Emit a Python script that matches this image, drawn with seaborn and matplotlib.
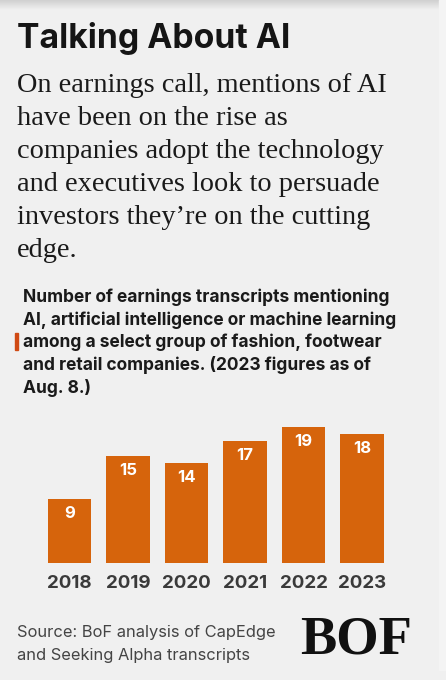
import numpy as np
import pandas as pd
import matplotlib
matplotlib.use("Agg")
import matplotlib.pyplot as plt
import seaborn as sns

# data
years = ["2018", "2019", "2020", "2021", "2022", "2023"]
mentions = [9, 15, 14, 17, 19, 18]

title = "Talking About AI"
deck_lines = [
    "On earnings call, mentions of AI",
    "have been on the rise as",
    "companies adopt the technology",
    "and executives look to persuade",
    "investors they\u2019re on the cutting",
    "edge.",
]
chart_lines = [
    "Number of earnings transcripts mentioning",
    "AI, artificial intelligence or machine learning",
    "among a select group of fashion, footwear",
    "and retail companies. (2023 figures as of",
    "Aug. 8.)",
]
source_lines = ["Source: BoF analysis of CapEdge", "and Seeking Alpha transcripts"]

sns.set_theme(style="white")
plt.rcParams["font.family"] = ["Inter", "DejaVu Sans"]

BG = "#f0f0f0"
ORANGE = "#d6640c"
W, H = 446, 680

fig = plt.figure(figsize=(W / 100, H / 100), dpi=100)
fig.patch.set_facecolor(BG)


def px(x, y):
    # pixel coords from top-left -> figure fraction
    return x / W, 1 - y / H


def fit_text(x, y, s, target_w, size, **kw):
    t = fig.text(*px(x, y), s, fontsize=size, **kw)
    r = fig.canvas.get_renderer()
    w = t.get_window_extent(renderer=r).width
    t.set_fontsize(size * target_w / w)
    return t


# soft shadow at the very top + lighter strip on the right
grad = fig.add_axes([0, 1 - 10 / H, 1, 10 / H])
shade = np.linspace(0.82, 0.94, 10)
grad.imshow(np.dstack([shade, shade, shade]).reshape(10, 1, 3), aspect="auto",
            extent=[0, 1, 0, 1], interpolation="bilinear")
grad.axis("off")
fig.patches.append(plt.Rectangle(px(439, H - 10), 7 / W, (H - 10) / H,
                                 transform=fig.transFigure, color="#f4f4f4", zorder=0))

# title
fit_text(17, 48, title, 273, 26, fontweight="bold", color="#151515", va="baseline")

# deck (serif)
deck_base = [92, 125, 158, 191, 224, 257]
t0 = fit_text(17, deck_base[0], deck_lines[0], 371, 21, family="Liberation Serif",
              color="#1a1a1a", va="baseline")
for ln, yb in zip(deck_lines[1:], deck_base[1:]):
    fig.text(*px(17, yb), ln, fontsize=t0.get_fontsize(), family="Liberation Serif",
             color="#1a1a1a", va="baseline")

# chart heading
chart_base = [302, 325, 347, 370, 393]
c0 = fit_text(23, chart_base[1], chart_lines[1], 373, 13, fontweight="bold",
              color="#1a1a1a", va="baseline")
for i, (ln, yb) in enumerate(zip(chart_lines, chart_base)):
    if i == 1:
        continue
    fig.text(*px(23, yb), ln, fontsize=c0.get_fontsize(), fontweight="bold",
             color="#1a1a1a", va="baseline")
fig.patches.append(plt.Rectangle(px(15, 350), 3 / W, 17 / H, transform=fig.transFigure,
                                 color="#d04a14", zorder=5))

# bars
df = pd.DataFrame({"year": years, "mentions": mentions})
ax = fig.add_axes([40.25 / W, (H - 563) / H, 351 / W, 143.2 / H])
ax.set_facecolor("none")
sns.barplot(data=df, x="year", y="mentions", color=ORANGE, saturation=1, width=0.74,
            linewidth=0, ax=ax)
ax.set_xlim(-0.5, 5.5)
ax.set_ylim(0, 20)
for i, v in enumerate(df["mentions"]):
    ax.annotate(str(v), (i, v), xytext=(0, -5), textcoords="offset points",
                ha="center", va="top", color="white", fontweight="bold", fontsize=12)
ax.set_xlabel("")
ax.set_ylabel("")
ax.set_yticks([])
ax.tick_params(axis="x", length=0, pad=9, labelsize=13.5, labelcolor="#3a3a3a")
for lab in ax.get_xticklabels():
    lab.set_fontweight("bold")
sns.despine(ax=ax, left=True, bottom=True)

# source
s0 = fit_text(17, 637, source_lines[0], 259, 12, color="#444444", va="baseline")
fig.text(*px(17, 660), source_lines[1], fontsize=s0.get_fontsize(), color="#444444",
         va="baseline")

# logo
fit_text(300, 654, "BOF", 112, 40, family="Liberation Serif", fontweight="bold",
         color="#111111", va="baseline")

fig.savefig("out.png", dpi=100, facecolor=BG)
